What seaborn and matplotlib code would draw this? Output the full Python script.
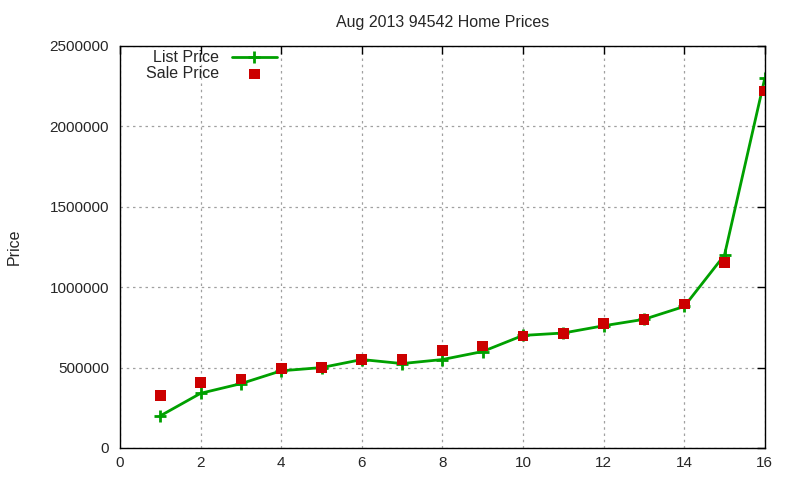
import matplotlib
matplotlib.use("Agg")
import matplotlib.pyplot as plt
import seaborn as sns
import pandas as pd

idx = list(range(1, 17))
list_price = [200000, 340000, 400000, 480000, 500000, 550000, 525000, 550000,
              600000, 700000, 715000, 760000, 800000, 880000, 1200000, 2300000]
sale_price = [325000, 406000, 429000, 493000, 499000, 549000, 549000, 605000,
              634000, 697000, 711000, 773000, 798000, 896000, 1152000, 2220000]

df = pd.DataFrame({"n": idx, "list": list_price, "sale": sale_price})

sns.set_style("white")
plt.rcParams['font.family'] = ['Liberation Sans', 'DejaVu Sans']

fig = plt.figure(figsize=(8, 4.8), dpi=100)
ax = fig.add_axes([0.15, 0.0667, 0.806, 0.8375])

sns.lineplot(data=df, x="n", y="list", ax=ax, color="#00a000", linewidth=2,
             marker="+", markersize=9, markeredgewidth=2, markeredgecolor="#00a000",
             label="List Price")
sns.scatterplot(data=df, x="n", y="sale", ax=ax, color="#cc0000", marker="s",
                s=60, edgecolor="none", label="Sale Price", zorder=5)

ax.set_xlim(0, 16)
ax.set_ylim(0, 2500000)
ax.set_xticks(range(0, 17, 2))
ax.set_yticks(range(0, 2500001, 500000))
ax.ticklabel_format(style="plain", axis="y")
ax.grid(True, color="#a0a0a0", linestyle=(0, (2, 3)), linewidth=0.9)
ax.tick_params(direction="in", length=6, top=True, right=True, labelsize=11,
               color="black", width=1)
ax.tick_params(axis="y", pad=8)
ax.tick_params(axis="x", pad=6)
for s in ax.spines.values():
    s.set_color("black")
    s.set_linewidth(1)
ax.set_xlabel("")
ax.set_ylabel("Price", fontsize=11.5, labelpad=20)
ax.set_title("Aug 2013 94542 Home Prices", fontsize=11.5, pad=14)

leg = ax.legend(loc="upper left", bbox_to_anchor=(0.018, 1.025), markerfirst=False,
                frameon=False, fontsize=11.5, handlelength=2.8, labelspacing=0.05,
                borderaxespad=0.5)
for t in leg.get_texts():
    t.set_ha("right")

fig.savefig("out.png", dpi=100)
